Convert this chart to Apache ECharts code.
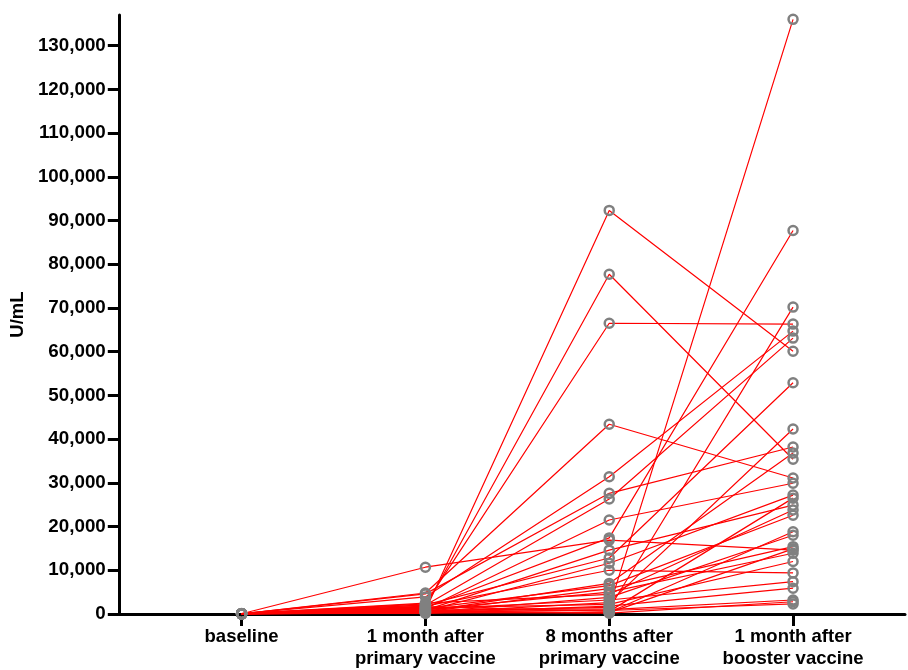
<!DOCTYPE html>
<html>
<head>
<meta charset="utf-8">
<script src="https://cdn.jsdelivr.net/npm/echarts@6/dist/echarts.min.js"></script>
<style>
html,body{margin:0;padding:0;background:#fff;}
#chart{width:908px;height:670px;}
</style>
</head>
<body>
<div id="chart"></div>
<script>
// Timepoint categories
const categories = ['baseline', '1 month after\nprimary vaccine', '8 months after\nprimary vaccine', '1 month after\nbooster vaccine'];
// Y tick labels
const yTicks = [0,10000,20000,30000,40000,50000,60000,70000,80000,90000,100000,110000,120000,130000];
// Per-subject values (U/mL), index-aligned
const baseline = [60,40,80,50,70,30,90,50,40,60,30,70,50,40,60,80,30,50,70,40,60,50,30,80,40,60,50,70,30,40,60,50];
const month1   = [800,1600,2300,4800,3900,4600,2000,1200,1500,10700,900,2100,700,1800,600,1300,500,1000,2500,400,1100,300,1400,200,700,900,300,600,1700,200,500,400];
const month8   = [92300,77700,66500,43400,31400,27600,26300,21500,17400,16900,14600,12800,11600,10000,7000,6500,5800,5000,4500,3800,3200,2600,2200,1800,1500,1200,1000,800,600,400,300,200];
const booster  = [60100,35400,66300,31100,64700,38200,63100,29900,87700,14600,24900,52900,27200,9400,36800,22600,15400,13900,23800,18000,7400,42300,12000,5900,136000,70200,3200,2300,26500,18800,14900,2800];

const series = baseline.map((b, i) => ({
  type: 'line',
  data: [[0, b], [1, month1[i]], [2, month8[i]], [3, booster[i]]],
  symbol: 'circle',
  symbolSize: 9,
  showAllSymbol: true,
  lineStyle: { color: '#ff0000', width: 1.2 },
  itemStyle: { color: 'rgba(255,255,255,0)', borderColor: '#808080', borderWidth: 2.5 },
  emphasis: { disabled: true },
  silent: true,
  z: 2
}));

const chart = echarts.init(document.getElementById('chart'), null, { renderer: 'canvas' });
chart.setOption({
  animation: false,
  backgroundColor: '#ffffff',
  grid: { left: 118, right: 3, top: 15, bottom: 56, containLabel: false },
  xAxis: {
    type: 'value',
    min: -0.668,
    max: 3.609,
    splitLine: { show: false },
    axisLine: { show: true, onZero: false, lineStyle: { color: '#000', width: 3 } },
    axisTick: { show: true, customValues: [0,1,2,3], length: 12, lineStyle: { color: '#000', width: 3 } },
    axisLabel: {
      customValues: [0,1,2,3],
      formatter: v => categories[Math.round(v)] || '',
      color: '#000', fontWeight: 'bold', fontSize: 18.5, lineHeight: 22,
      fontFamily: 'Liberation Sans, Arial, sans-serif', margin: 12
    }
  },
  yAxis: {
    type: 'value',
    min: 0,
    max: 137000,
    interval: 10000,
    name: 'U/mL',
    nameLocation: 'middle',
    nameGap: 89,
    nameRotate: 90,
    nameTextStyle: { color: '#000', fontWeight: 'bold', fontSize: 18.5, fontFamily: 'Liberation Sans, Arial, sans-serif' },
    splitLine: { show: false },
    axisLine: { show: true, onZero: false, lineStyle: { color: '#000', width: 3 } },
    axisTick: { show: true, customValues: yTicks, length: 11, lineStyle: { color: '#000', width: 3 } },
    axisLabel: {
      customValues: yTicks,
      formatter: v => v.toLocaleString('en-US'),
      color: '#000', fontWeight: 'bold', fontSize: 18.8,
      fontFamily: 'Liberation Sans, Arial, sans-serif', margin: 13
    }
  },
  series: series
});
</script>
</body>
</html>
